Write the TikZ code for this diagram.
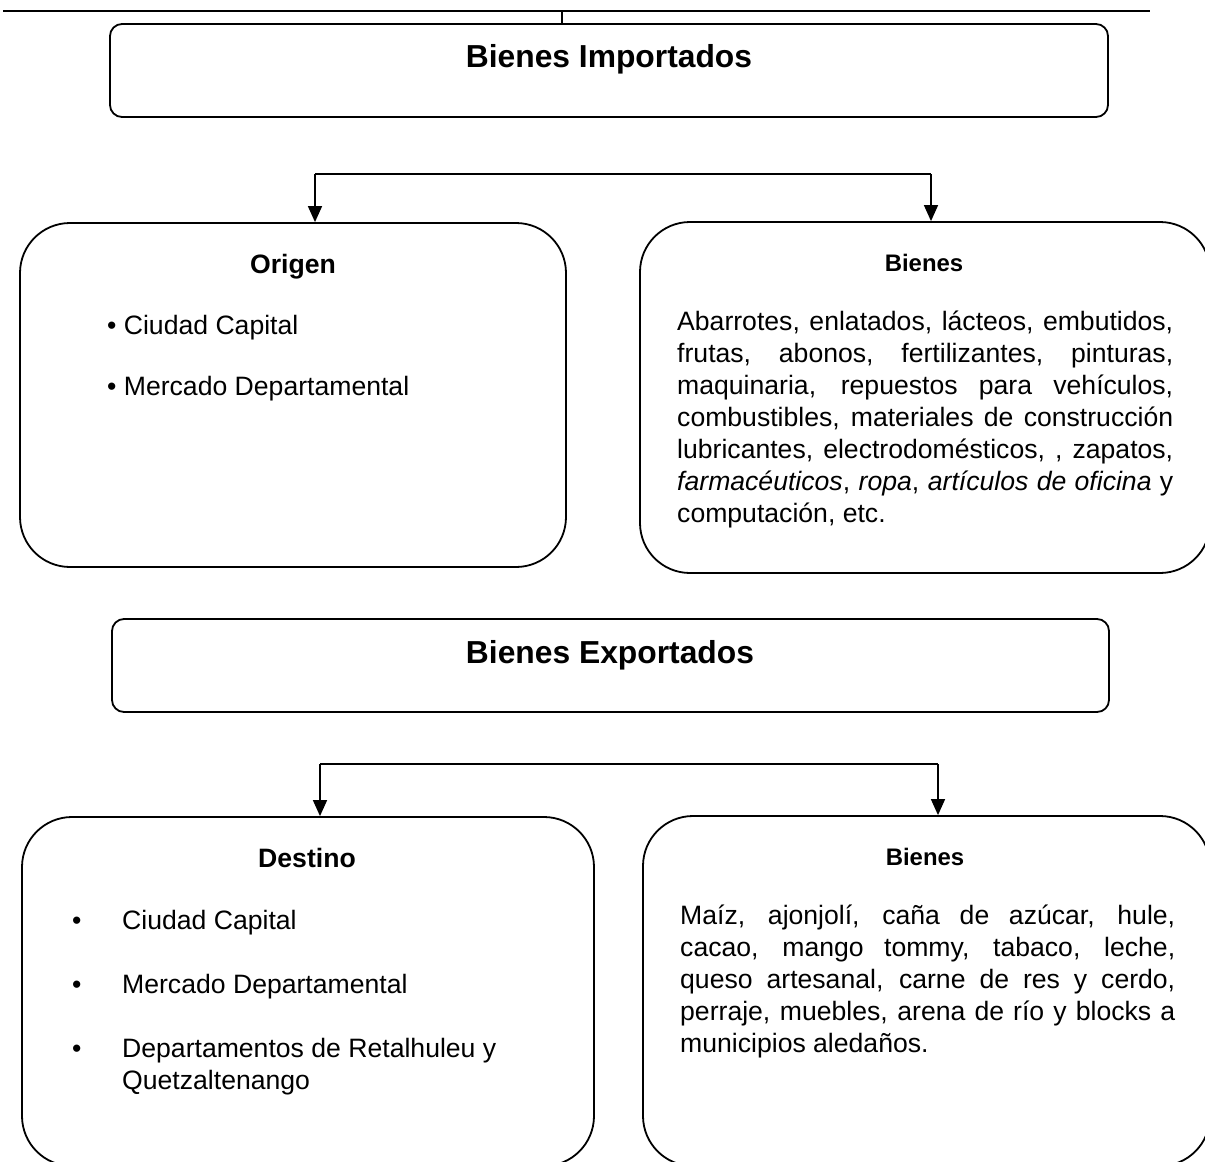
\documentclass[tikz,border=0pt]{standalone}
\usepackage{fontspec}
\setmainfont{Liberation Sans}
\usetikzlibrary{arrows.meta}
\begin{document}
\begin{tikzpicture}[x=1pt,y=-1pt,
  hdr/.style={draw, line width=1.8pt, rounded corners=12pt, inner sep=0},
  bigbox/.style={draw, line width=1.8pt, rounded corners=50pt, inner sep=0},
  conn/.style={line width=1.5pt},
  arr/.style={line width=1.5pt, -{Triangle[width=14pt,length=16pt]}},
  ttl/.style={font=\fontsize{31.8}{38}\selectfont\bfseries, anchor=base, inner sep=0},
  sub/.style={font=\fontsize{26.6}{32}\selectfont\bfseries, anchor=base, inner sep=0},
  subs/.style={font=\fontsize{23.9}{29}\selectfont\bfseries, anchor=base, inner sep=0},
  body/.style={font=\fontsize{26.6}{32}\selectfont, anchor=base west, inner sep=0},
  para/.style={body, text width=496pt, align=justify},
]
\useasboundingbox (0,0) rectangle (1205,1162);

% top rule
\coordinate (tl) at (3,11);
\coordinate (tr) at (1150,11);
\coordinate (tick) at (562,11);
\draw[line width=2.5pt] (tl) -- (tr);

% ---------- Importados ----------
\node[hdr, minimum width=998pt, minimum height=93pt] (imp) at (609,70.5) {};
\draw[conn] (tick) -- (tick |- imp.north);
\node[ttl] (impt) at (609,67) {Bienes Importados};

\node[bigbox, minimum width=546pt, minimum height=344pt] (orig) at (293,395) {};
\node[bigbox, minimum width=570pt, minimum height=351pt] (bien1) at (925,397.5) {};

\coordinate (ja) at (315,174);
\coordinate (jb) at (931,174);
\draw[conn] (ja) -- (jb);
\draw[arr] (ja) -- (ja |- orig.north);
\draw[arr] (jb) -- (jb |- bien1.north);

\node[sub] (origt) at (293,273) {Origen};
\node[body] (o1) at (107,334) {• Ciudad Capital};
\node[body] (o2) at (107,395) {• Mercado Departamental};

\node[subs] (b1t) at (924,271.5) {Bienes};
\node[para] (b1p) at (677,330) {Abarrotes, enlatados, lácteos, embutidos,\linebreak
frutas, abonos, fertilizantes, pinturas,\linebreak
maquinaria, repuestos para vehículos,\linebreak
combustibles, materiales de construcción\linebreak
lubricantes, electrodomésticos, , zapatos,\linebreak
\textit{farmacéuticos}, \textit{ropa}, \textit{artículos de oficina} y\linebreak
computación, etc.};

% ---------- Exportados ----------
\node[hdr, minimum width=997pt, minimum height=93pt] (exp) at (610.5,665.5) {};
\node[ttl] (expt) at (610,663) {Bienes Exportados};

\node[bigbox, minimum width=572pt, minimum height=349pt] (dest) at (308,991.5) {};
\node[bigbox, minimum width=567pt, minimum height=350pt] (bien2) at (926.5,991) {};

\coordinate (jc) at (320,764);
\coordinate (jd) at (938,764);
\draw[conn] (jc) -- (jd);
\draw[arr] (jc) -- (jc |- dest.north);
\draw[arr] (jd) -- (jd |- bien2.north);

\node[sub] (destt) at (307,867.5) {Destino};
\node[body] (d1) at (72,929) {\makebox[50pt][l]{•}Ciudad Capital};
\node[body] (d2) at (72,993) {\makebox[50pt][l]{•}Mercado Departamental};
\node[body] (d3) at (72,1057) {\makebox[50pt][l]{•}Departamentos de Retalhuleu y};
\node[body] (d3b) at (122,1089) {Quetzaltenango};

\node[subs] (b2t) at (925,865.5) {Bienes};
\node[para, text width=495pt] (b2p) at (680,924) {Maíz, ajonjolí, caña de azúcar, hule,\linebreak
cacao, mango tommy, tabaco, leche,\linebreak
queso artesanal, carne de res y cerdo,\linebreak
perraje, muebles, arena de río y blocks a\linebreak
municipios aledaños.};
\end{tikzpicture}
\end{document}
